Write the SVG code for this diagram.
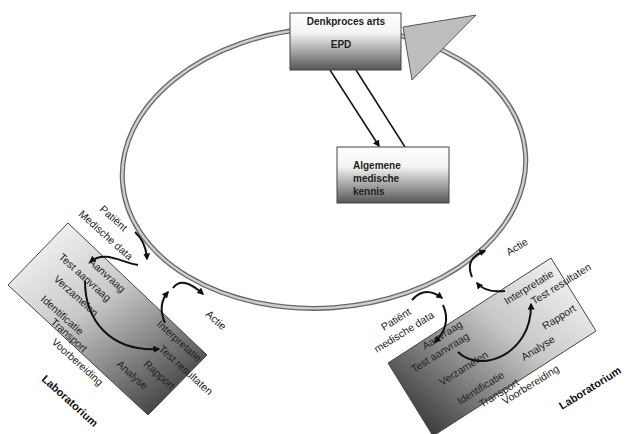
<svg xmlns="http://www.w3.org/2000/svg" width="628" height="434" viewBox="0 0 628 434">
<style>
.t{font-family:"Liberation Sans",Arial,sans-serif;font-size:10.5px;fill:#222}
.b{font-family:"Liberation Sans",Arial,sans-serif;font-size:10px;font-weight:bold;fill:#222}
.lab{font-family:"Liberation Sans",Arial,sans-serif;font-size:11px;font-weight:bold;fill:#111}
.c{fill:none;stroke:#111;stroke-width:2;marker-end:url(#ah)}
.box{stroke:#444;stroke-width:1}
</style>
<defs>
<marker id="ah" viewBox="0 0 10 10" refX="8" refY="5" markerWidth="7" markerHeight="7" markerUnits="userSpaceOnUse" orient="auto">
<path d="M0,0 L10,5 L0,10 z" fill="#111"/>
</marker>
<linearGradient id="gTop" x1="0" y1="0" x2="0" y2="1">
<stop offset="0" stop-color="#fff"/>
<stop offset="0.35" stop-color="#f4f4f4"/>
<stop offset="1" stop-color="#555"/>
</linearGradient>
<linearGradient id="gL" gradientUnits="userSpaceOnUse" x1="40" y1="235" x2="165" y2="415">
<stop offset="0" stop-color="#f2f2f2"/>
<stop offset="0.4" stop-color="#c8c8c8"/>
<stop offset="1" stop-color="#3c3c3c"/>
</linearGradient>
<linearGradient id="gR" gradientUnits="userSpaceOnUse" x1="565" y1="265" x2="425" y2="430">
<stop offset="0" stop-color="#f2f2f2"/>
<stop offset="0.4" stop-color="#c8c8c8"/>
<stop offset="1" stop-color="#3c3c3c"/>
</linearGradient>
</defs>
<rect width="628" height="434" fill="#fff"/>

<g id="ring">
<ellipse cx="324" cy="168" rx="202" ry="140" transform="rotate(-4 324 168)" fill="none" stroke="#666" stroke-width="5"/>
<ellipse cx="324" cy="168" rx="202" ry="140" transform="rotate(-4 324 168)" fill="none" stroke="#cfcfcf" stroke-width="2.4"/>
</g>

<g id="arrowhead">
<polygon points="403,27 476,15 412,80" fill="#bdbdbd" stroke="#555" stroke-width="1"/>
</g>

<g id="connectors">
<line x1="330" y1="70" x2="379" y2="146" stroke="#111" stroke-width="1.5" marker-end="url(#ah)"/>
<line x1="356" y1="70" x2="405" y2="147" stroke="#111" stroke-width="1.5"/>
</g>

<g id="denkproces">
<rect class="box" x="290" y="13" width="111" height="57" fill="url(#gTop)"/>
<text class="b" x="346" y="25" text-anchor="middle">Denkproces arts</text>
<text class="b" x="341" y="48" text-anchor="middle">EPD</text>
</g>

<g id="kennis">
<rect class="box" x="337" y="147" width="112" height="56" fill="url(#gTop)"/>
<text class="b" x="353" y="169">Algemene</text>
<text class="b" x="353" y="182">medische</text>
<text class="b" x="353" y="195">kennis</text>
</g>

<g id="lab-left">
<polygon class="box" points="68,223 207,355 148,415 8,285" fill="url(#gL)"/>
<text class="t" transform="translate(99,210) rotate(42)">Patiënt</text>
<text class="t" transform="translate(78,215) rotate(42)">Medische data</text>
<text class="t" transform="translate(88,263) rotate(42)">Aanvraag</text>
<text class="t" transform="translate(58,258) rotate(42)">Test aanvraag</text>
<text class="t" transform="translate(53,280) rotate(42)">Verzamelen</text>
<text class="t" transform="translate(40,300) rotate(42)">Identificatie</text>
<text class="t" transform="translate(50,323) rotate(42)">Transport</text>
<text class="t" transform="translate(51,343) rotate(42)">Voorbereiding</text>
<text class="lab" transform="translate(41,380) rotate(42)">Laboratorium</text>
<text class="t" transform="translate(116,365) rotate(42)">Analyse</text>
<text class="t" transform="translate(143,365) rotate(42)">Rapport</text>
<text class="t" transform="translate(158,350) rotate(42)">Test resultaten</text>
<text class="t" transform="translate(156,325) rotate(42)">Interpretatie</text>
<text class="t" transform="translate(205,315) rotate(42)">Actie</text>
</g>

<g id="lab-right">
<polygon class="box" points="388,363 551,258 596,331 433,436" fill="url(#gR)"/>
<text class="t" transform="translate(384,331) rotate(-32)">Patiënt</text>
<text class="t" transform="translate(377,353) rotate(-32)">medische data</text>
<text class="t" transform="translate(425,350) rotate(-32)">Aanvraag</text>
<text class="t" transform="translate(414,373) rotate(-32)">Test aanvraag</text>
<text class="t" transform="translate(442,386) rotate(-32)">Verzamelen</text>
<text class="t" transform="translate(460,405) rotate(-32)">Identificatie</text>
<text class="t" transform="translate(482,408) rotate(-32)">Transport</text>
<text class="t" transform="translate(505,405) rotate(-32)">Voorbereiding</text>
<text class="t" transform="translate(524,361) rotate(-32)">Analyse</text>
<text class="t" transform="translate(545,330) rotate(-32)">Rapport</text>
<text class="t" transform="translate(534,305) rotate(-32)">Test resultaten</text>
<text class="t" transform="translate(507,305) rotate(-32)">Interpretatie</text>
<text class="t" transform="translate(509,256) rotate(-32)">Actie</text>
<text class="lab" transform="translate(562,410) rotate(-32)">Laboratorium</text>
</g>

<g id="flow-arrows">
<path class="c" d="M135,232 Q146,242 147,259"/>
<path class="c" d="M138,265 C120,262 105,250 90,262"/>
<path class="c" d="M85,281 C85,320 110,352 159,349"/>
<path class="c" d="M165,323 Q157,305 168,292"/>
<path class="c" d="M173,288 Q182,275 203,294"/>
<path class="c" d="M412,300 Q425,285 442,298"/>
<path class="c" d="M443,305 Q452,325 435,342"/>
<path class="c" d="M458,352 C480,374 532,355 531,304"/>
<path class="c" d="M472,277 Q464,258 485,251"/>
<path class="c" d="M505,291 Q485,293 477,283"/>
</g>
</svg>
